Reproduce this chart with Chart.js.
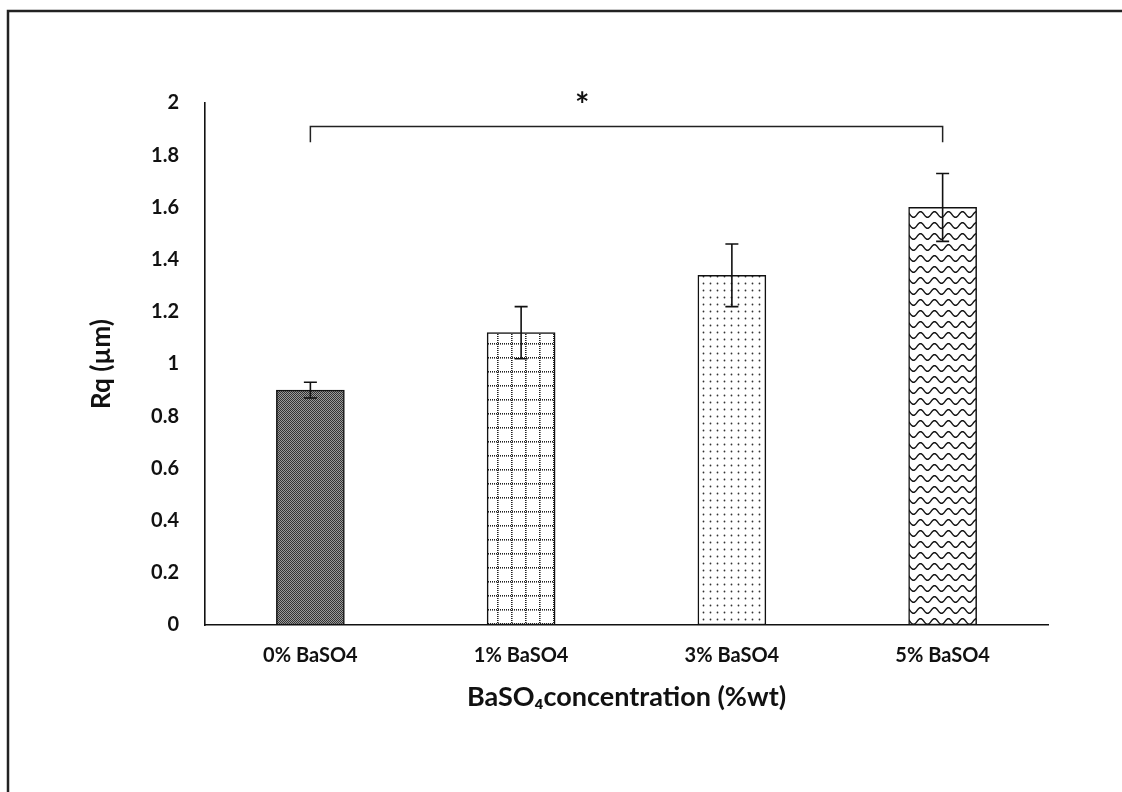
<!DOCTYPE html>
<html>
<head>
<meta charset="utf-8">
<script src="https://cdn.jsdelivr.net/npm/chart.js@4.4.1/dist/chart.umd.min.js"></script>
<style>
  html, body { margin: 0; padding: 0; background: #fff; }
  #wrap { width: 1122px; height: 792px; position: relative; }
</style>
</head>
<body>
<div id="wrap"><canvas id="c" width="1122" height="792"></canvas></div>
<script>
// Surface roughness by barium sulfate loading
const categories = ['0% BaSO4', '1% BaSO4', '3% BaSO4', '5% BaSO4'];
const rqValues = [0.90, 1.12, 1.34, 1.60];
const rqErrors = [0.03, 0.10, 0.12, 0.13];
const yTicks = [0, 0.2, 0.4, 0.6, 0.8, 1, 1.2, 1.4, 1.6, 1.8, 2];
const significance = { from: 0, to: 3, level: 1.91, drop: 1.85, mark: '*' };

// ---- fill patterns for the bars ----
function tile(w, h, draw) {
  const cv = document.createElement('canvas');
  cv.width = w; cv.height = h;
  const g = cv.getContext('2d');
  g.fillStyle = '#fff';
  g.fillRect(0, 0, w, h);
  draw(g);
  return document.getElementById('c').getContext('2d').createPattern(cv, 'repeat');
}

const denseChecker = tile(2, 2, g => {
  g.fillStyle = '#333';
  g.fillRect(0, 0, 1, 1);
  g.fillRect(1, 1, 1, 1);
  g.fillStyle = '#9a9a9a';
  g.fillRect(1, 0, 1, 1);
  g.fillRect(0, 1, 1, 1);
});

const dottedGrid = tile(14, 14, g => {
  g.fillStyle = '#222';
  for (let i = 0; i < 14; i += 2) {
    g.fillRect(i, 7, 1, 1.6);
    g.fillRect(7, i, 1.6, 1);
  }
});

const dotField = tile(7, 7, g => {
  g.fillStyle = '#333';
  g.beginPath();
  g.arc(3.5, 3.5, 0.9, 0, Math.PI * 2);
  g.fill();
});

const waves = tile(14, 11, g => {
  g.strokeStyle = '#111';
  g.lineWidth = 1.4;
  g.beginPath();
  for (let x = -1; x <= 15; x += 0.5) {
    const y = 5.5 + 2.8 * Math.sin((x / 14) * Math.PI * 2);
    if (x === -1) g.moveTo(x, y); else g.lineTo(x, y);
  }
  g.stroke();
});

const fills = [denseChecker, dottedGrid, dotField, waves];

// ---- plugins ----
const framePlugin = {
  id: 'frame',
  beforeDraw(chart) {
    const ctx = chart.ctx;
    ctx.save();
    ctx.fillStyle = '#fff';
    ctx.fillRect(0, 0, chart.width, chart.height);
    ctx.strokeStyle = '#222';
    ctx.lineWidth = 2.5;
    ctx.beginPath();
    ctx.moveTo(8, chart.height);
    ctx.lineTo(8, 11);
    ctx.lineTo(chart.width, 11);
    ctx.stroke();
    ctx.restore();
  }
};

const errorBarPlugin = {
  id: 'errorBars',
  afterDatasetsDraw(chart) {
    const ctx = chart.ctx;
    const y = chart.scales.y;
    const meta = chart.getDatasetMeta(0);
    ctx.save();
    ctx.strokeStyle = '#111';
    ctx.lineWidth = 1.6;
    meta.data.forEach((bar, i) => {
      const x = bar.x;
      const top = y.getPixelForValue(rqValues[i] + rqErrors[i]);
      const bot = y.getPixelForValue(rqValues[i] - rqErrors[i]);
      const cap = 6.5;
      ctx.beginPath();
      ctx.moveTo(x, top); ctx.lineTo(x, bot);
      ctx.moveTo(x - cap, top); ctx.lineTo(x + cap, top);
      ctx.moveTo(x - cap, bot); ctx.lineTo(x + cap, bot);
      ctx.stroke();
    });
    ctx.restore();
  }
};

const bracketPlugin = {
  id: 'bracket',
  afterDraw(chart) {
    const ctx = chart.ctx;
    const xs = chart.scales.x, ys = chart.scales.y;
    const x0 = xs.getPixelForValue(significance.from);
    const x1 = xs.getPixelForValue(significance.to);
    const yl = ys.getPixelForValue(significance.level);
    const yd = ys.getPixelForValue(significance.drop);
    ctx.save();
    ctx.strokeStyle = '#222';
    ctx.lineWidth = 1.5;
    ctx.beginPath();
    ctx.moveTo(x0, yd); ctx.lineTo(x0, yl); ctx.lineTo(x1, yl); ctx.lineTo(x1, yd);
    ctx.stroke();
    ctx.fillStyle = '#111';
    ctx.font = 'bold 34px Lato, "DejaVu Sans", sans-serif';
    ctx.textAlign = 'center';
    ctx.textBaseline = 'middle';
    const xm = x0 + (x1 - x0) * 0.43;
    ctx.fillText(significance.mark, xm, yl - 20);
    ctx.restore();
  }
};

const tickFont = { family: 'Lato, "Open Sans", sans-serif', size: 20, weight: 'bold' };

new Chart(document.getElementById('c'), {
  type: 'bar',
  data: {
    labels: categories,
    datasets: [{
      data: rqValues,
      backgroundColor: fills,
      borderColor: '#111',
      borderWidth: 1.5,
      borderSkipped: false,
      barThickness: 68
    }]
  },
  options: {
    responsive: false,
    animation: false,
    devicePixelRatio: 1,
    layout: { padding: { left: 86, top: 103, right: 74, bottom: 0 } },
    plugins: { legend: { display: false }, tooltip: { enabled: false } },
    scales: {
      x: {
        grid: { display: false, drawTicks: false },
        border: { display: true, color: '#111', width: 1.6 },
        ticks: { color: '#111', font: tickFont, padding: 19, maxRotation: 0 },
        title: {
          display: true,
          text: 'BaSO\u2084concentration (%wt)',
          color: '#111',
          font: { family: 'Lato, "Open Sans", sans-serif', size: 27, weight: 'bold' },
          padding: { top: 0, bottom: 79 }
        },
        afterFit(s) { s.height = 167; }
      },
      y: {
        min: 0, max: 2,
        afterBuildTicks(s) { s.ticks = yTicks.map(v => ({ value: v })); },
        grid: { display: false, drawTicks: false },
        border: { display: true, color: '#111', width: 1.6 },
        ticks: {
          color: '#111', font: tickFont, padding: 26,
          callback: v => String(Math.round(v * 10) / 10)
        },
        title: {
          display: true,
          text: 'Rq (\u00b5m)',
          color: '#111',
          font: { family: 'Lato, "Open Sans", sans-serif', size: 26, weight: 'bold' },
          padding: { top: 0, bottom: 0 }
        },
        afterFit(s) { s.width = 119; }
      }
    }
  },
  plugins: [framePlugin, errorBarPlugin, bracketPlugin]
});
</script>
</body>
</html>
